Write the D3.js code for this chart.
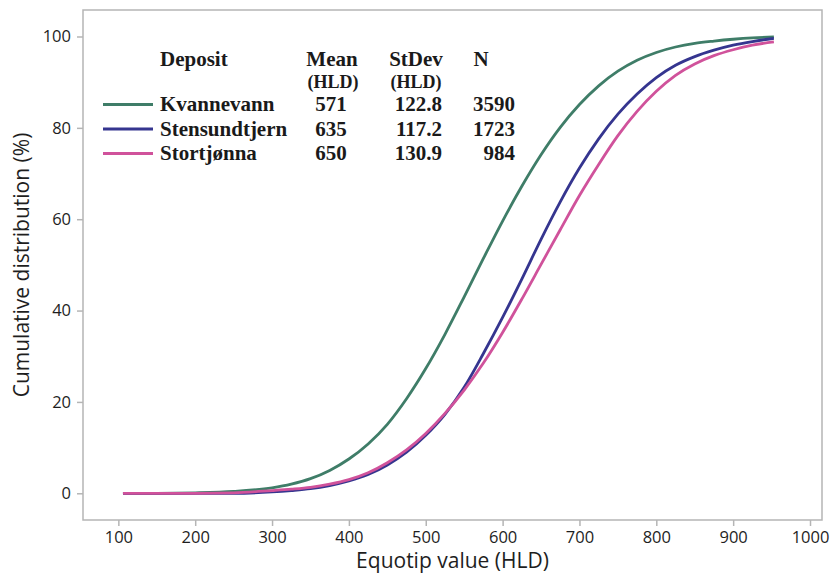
<!DOCTYPE html>
<html>
<head>
<meta charset="utf-8">
<script src="https://cdn.jsdelivr.net/npm/d3@7"></script>
<style>
  html, body { margin: 0; padding: 0; background: #fff; }
  svg { display: block; }
</style>
</head>
<body>
<svg id="chart" width="832" height="573"></svg>
<script>
// Equotip hardness values (HLD) at which the cumulative curves are sampled
const hld = [106, 150, 200, 250, 300, 325, 350, 375, 400, 425, 450, 475, 500, 525, 550,
             575, 600, 625, 650, 675, 700, 725, 750, 775, 800, 825, 850, 875, 900, 925, 953];

// Cumulative distribution (%) per deposit
const kvannevann = [0, 0, 0.1, 0.4, 1.2, 2.0, 3.2, 5.0, 7.5, 10.8, 15.1, 20.7, 27.3, 34.8, 43.0,
                    51.4, 59.6, 67.2, 74.1, 80.1, 85.1, 89.2, 92.4, 94.8, 96.5, 97.7, 98.5, 99.0, 99.4, 99.7, 99.9];
const stensundtjern = [0, 0, 0, 0, 0.3, 0.6, 1.0, 1.7, 2.7, 4.1, 6.2, 9.0, 12.7, 17.3, 23.2,
                       30.6, 38.5, 46.9, 55.6, 63.8, 71.2, 77.6, 83.0, 87.4, 91.0, 93.7, 95.6, 97.0, 98.1, 98.9, 99.6];
const stortjonna = [0, 0, 0, 0.1, 0.6, 0.9, 1.3, 2.0, 3.0, 4.5, 6.7, 9.5, 13.1, 17.5, 22.6,
                    28.5, 35.2, 42.5, 50.1, 57.7, 65.2, 72.0, 78.3, 83.6, 88.0, 91.5, 94.0, 95.8, 97.1, 98.1, 98.8];

// Legend table
const deposits = ["Kvannevann", "Stensundtjern", "Stortjønna"];
const means = ["571", "635", "650"];
const stdevs = ["122.8", "117.2", "130.9"];
const counts = ["3590", "1723", "984"];
const colors = ["#3f7d68", "#35358f", "#d0529b"];

const xTicks = [100, 200, 300, 400, 500, 600, 700, 800, 900, 1000];
const yTicks = [0, 20, 40, 60, 80, 100];

const series = [kvannevann, stensundtjern, stortjonna];

const svg = d3.select("#chart");
const plot = { left: 83, right: 822, top: 10, bottom: 520 };

const x = d3.scaleLinear().domain([54, 1015.6]).range([plot.left, plot.right]);
const y = d3.scaleLinear().domain([-5.85, 105.8]).range([plot.bottom, plot.top]);

const sans = "'Open Sans', 'Noto Sans', sans-serif";
const serif = "'Liberation Serif', 'DejaVu Serif', serif";
const frameColor = "#b5b5b5";

// Plot frame
svg.append("rect")
  .attr("x", plot.left).attr("y", plot.top)
  .attr("width", plot.right - plot.left).attr("height", plot.bottom - plot.top)
  .attr("fill", "none").attr("stroke", frameColor).attr("stroke-width", 1.5);

// Axes
const xAxis = svg.append("g")
  .attr("transform", `translate(0,${plot.bottom})`)
  .call(d3.axisBottom(x).tickValues(xTicks).tickSize(6).tickPadding(5).tickFormat(d3.format("d")));
const yAxis = svg.append("g")
  .attr("transform", `translate(${plot.left},0)`)
  .call(d3.axisLeft(y).tickValues(yTicks).tickSize(6).tickPadding(6).tickFormat(d3.format("d")));

[xAxis, yAxis].forEach(g => {
  g.select(".domain").remove();
  g.selectAll(".tick line").attr("stroke", frameColor).attr("stroke-width", 1.5);
  g.selectAll(".tick text")
    .attr("fill", "#1e1e1e")
    .style("font-family", sans)
    .style("font-size", "16.5px");
});

// Axis titles
svg.append("text")
  .attr("x", (plot.left + plot.right) / 2).attr("y", 568)
  .attr("text-anchor", "middle")
  .attr("fill", "#1e1e1e")
  .style("font-family", sans).style("font-size", "21px")
  .text("Equotip value (HLD)");

svg.append("text")
  .attr("transform", "translate(29,265) rotate(-90)")
  .attr("text-anchor", "middle")
  .attr("fill", "#1e1e1e")
  .style("font-family", sans).style("font-size", "21px")
  .text("Cumulative distribution (%)");

// Cumulative curves
const line = d3.line()
  .x((d, i) => x(hld[i]))
  .y(d => y(d))
  .curve(d3.curveMonotoneX);

svg.append("g")
  .selectAll("path")
  .data(series)
  .join("path")
  .attr("d", line)
  .attr("fill", "none")
  .attr("stroke", (d, i) => colors[i])
  .attr("stroke-width", 2.8)
  .attr("stroke-linejoin", "round");

// Legend table
const legend = svg.append("g")
  .style("font-family", serif)
  .style("font-weight", "bold")
  .attr("fill", "#1a1a1a");

const header = [
  { t: "Deposit", x: 160, y: 66, size: 21, anchor: "start" },
  { t: "Mean", x: 332, y: 66, size: 21, anchor: "middle" },
  { t: "(HLD)", x: 333, y: 88, size: 18, anchor: "middle" },
  { t: "StDev", x: 416, y: 66, size: 21, anchor: "middle" },
  { t: "(HLD)", x: 416, y: 88, size: 18, anchor: "middle" },
  { t: "N", x: 481, y: 66, size: 21, anchor: "middle" }
];
legend.selectAll("text.head")
  .data(header)
  .join("text")
  .attr("class", "head")
  .attr("x", d => d.x).attr("y", d => d.y)
  .attr("text-anchor", d => d.anchor)
  .style("font-size", d => d.size + "px")
  .text(d => d.t);

const rowY = [111, 135.5, 160];
const rows = legend.selectAll("g.row")
  .data(deposits)
  .join("g")
  .attr("class", "row")
  .attr("transform", (d, i) => `translate(0,${rowY[i]})`);

rows.append("line")
  .attr("x1", 103).attr("x2", 153)
  .attr("y1", -6.5).attr("y2", -6.5)
  .attr("stroke", (d, i) => colors[i])
  .attr("stroke-width", 3.2);

rows.append("text")
  .attr("x", 160)
  .style("font-size", "21px")
  .text(d => d);

rows.append("text")
  .attr("x", 331).attr("text-anchor", "middle")
  .style("font-size", "21px")
  .text((d, i) => means[i]);

rows.append("text")
  .attr("x", 442).attr("text-anchor", "end")
  .style("font-size", "21px")
  .text((d, i) => stdevs[i]);

rows.append("text")
  .attr("x", 515).attr("text-anchor", "end")
  .style("font-size", "21px")
  .text((d, i) => counts[i]);
</script>
</body>
</html>
